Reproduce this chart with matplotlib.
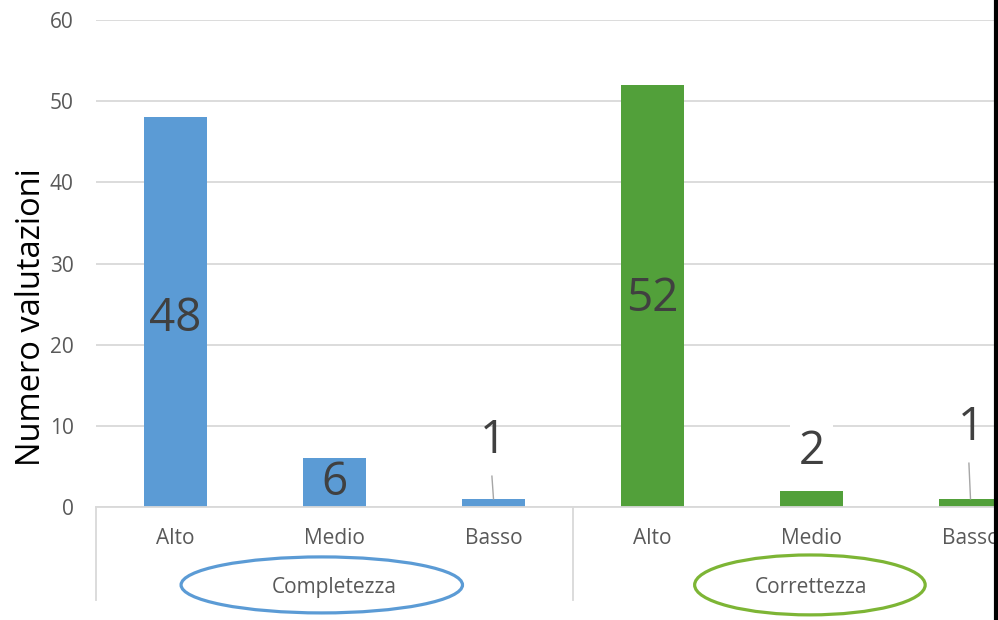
import matplotlib
matplotlib.use("Agg")
import matplotlib.pyplot as plt
import matplotlib.transforms as mtransforms
from matplotlib.patches import Ellipse

plt.rcParams['font.family'] = ['Open Sans', 'DejaVu Sans']

# dati
gruppi = ["Completezza", "Correttezza"]
livelli = ["Alto", "Medio", "Basso"]
completezza = [48, 6, 1]
correttezza = [52, 2, 1]

col_blu = "#5B9BD5"
col_verde = "#52A03A"
col_ellisse = ["#5B9BD5", "#7DB535"]
grigio = "#595959"
grid_col = "#D9D9D9"

valori = completezza + correttezza
colori = [col_blu] * 3 + [col_verde] * 3
xs = list(range(len(valori)))

W, H = 998, 620
fig = plt.figure(figsize=(W / 100, H / 100), dpi=100)
# area del grafico: esce a destra dalla figura (immagine tagliata)
ax = fig.add_axes([96 / W, (H - 507) / H, (6 * 159) / W, (507 - 20) / H])

ax.bar(xs, valori, width=0.4, color=colori, zorder=2)
ax.set_xlim(-0.5, 5.5)
ax.set_ylim(0, 60)
ax.set_yticks(range(0, 61, 10))
ax.yaxis.grid(True, color=grid_col, linewidth=1.3, zorder=0)
ax.tick_params(axis='y', length=0, labelsize=15, labelcolor=grigio, pad=16)
ax.set_xticks(xs)
ax.set_xticklabels(livelli * 2)
ax.tick_params(axis='x', length=0, labelsize=15, labelcolor=grigio, pad=15)
for s in ["top", "right", "left"]:
    ax.spines[s].set_visible(False)
ax.spines["bottom"].set_color(grid_col)
ax.spines["bottom"].set_linewidth(1.3)

ax.set_ylabel("Numero valutazioni", fontsize=23.5, color="#000000")
ax.yaxis.set_label_coords(-0.05, 0.39)

# etichette dei valori (posizioni spostate a mano come nell'originale)
label_y = [23.2, 3, 8.1, 25.6, 6.8, 9.7]
for x, v, ly in zip(xs, valori, label_y):
    bbox = None
    if v == 2:
        bbox = dict(facecolor="white", edgecolor="none", pad=6)
    ax.text(x, ly, str(v), ha="center", va="center", fontsize=33,
            color="#404040", zorder=4, bbox=bbox)
    if v == 1:
        ax.plot([x - 0.01, x], [ly - 4.3, v], color="#A6A6A6", lw=1, zorder=3)

# separatori e nomi dei gruppi sotto l'asse
tr = mtransforms.blended_transform_factory(ax.transData, ax.transAxes)
for b in [-0.5, 2.5, 5.5]:
    ax.plot([b, b], [0, -0.19], transform=tr, color=grid_col, lw=1.3,
            clip_on=False)
for i, g in enumerate(gruppi):
    cx = 3 * i + 1
    ax.text(cx, -0.166, g, transform=tr, ha="center", va="center",
            fontsize=15, color=grigio)
centri = [0.92, 3.99]
larg = [1.77, 1.45]
alt = [0.115, 0.123]
for c, w, h, ec in zip(centri, larg, alt, col_ellisse):
    ax.add_patch(Ellipse((c, -0.16), w, h, transform=tr, fill=False,
                         edgecolor=ec, lw=2.3, clip_on=False))

# bordo nero a destra
fig.add_artist(plt.Line2D([996 / W, 996 / W], [0, 1], color="black", lw=3,
                          transform=fig.transFigure))

fig.savefig("out.png", dpi=100)
